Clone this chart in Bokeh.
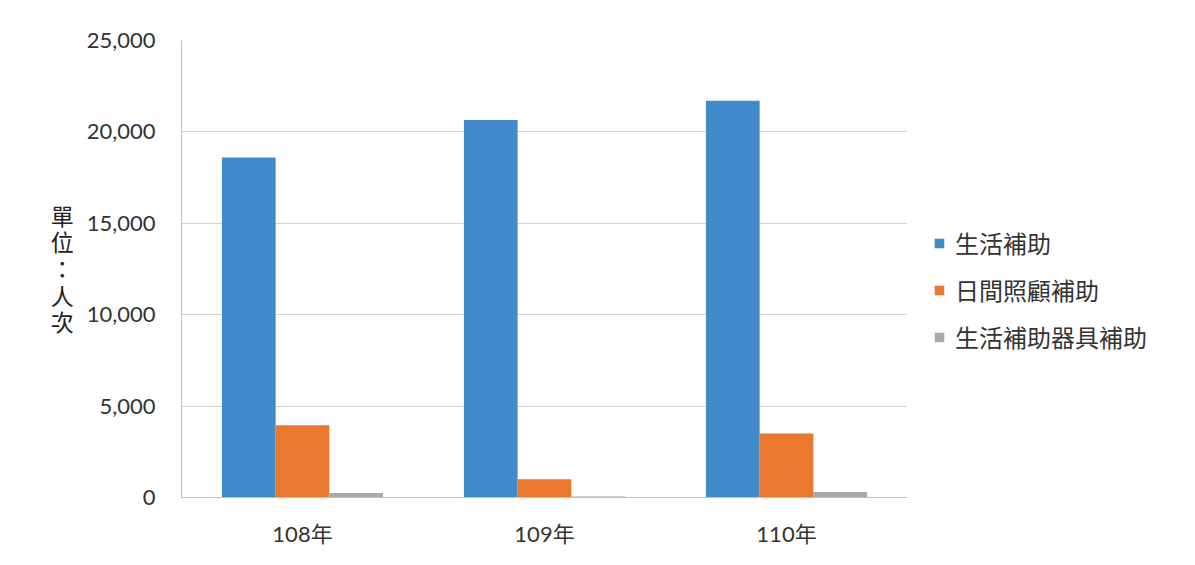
from bokeh.plotting import figure
from bokeh.models import Legend, LegendItem, FactorRange, NumeralTickFormatter, FixedTicker, Axis
from bokeh.layouts import row
from bokeh.transform import dodge
from bokeh.embed import file_html
from bokeh.resources import INLINE

years = ["108年", "109年", "110年"]
series_names = ["生活補助", "日間照顧補助", "生活補助器具補助"]
living = [18600, 20650, 21700]
daycare = [3950, 1000, 3500]
devices = [250, 50, 300]
colors = ["#428bca", "#e8792f", "#a7aaaa"]
y_ticks = [0, 5000, 10000, 15000, 20000, 25000]

FONT = "Lato, 'Noto Sans CJK TC', sans-serif"

p = figure(x_range=FactorRange(*years), y_range=(0, 25000), width=907, height=549,
           output_backend="svg", toolbar_location=None,
           min_border_left=181, min_border_right=0, min_border_top=40, min_border_bottom=48)

data = dict(year=years, a=living, b=daycare, c=devices)
for i, col in enumerate(["a", "b", "c"]):
    p.vbar(x=dodge("year", (i - 1) * 0.222, range=p.x_range), top=col, width=0.222,
           source=data, fill_color=colors[i], line_color=None)

p.yaxis.ticker = FixedTicker(ticks=y_ticks)
p.yaxis.formatter = NumeralTickFormatter(format="0,0")
p.ygrid.grid_line_color = "#d4d4d4"
p.xgrid.grid_line_color = None
p.outline_line_color = None
p.yaxis.axis_line_color = "#bfbfbf"
p.xaxis.axis_line_color = "#bfbfbf"
p.yaxis.major_tick_line_color = None
p.yaxis.minor_tick_line_color = None
p.xaxis.major_tick_line_color = None
p.yaxis.major_label_text_font = FONT
p.xaxis.major_label_text_font = FONT
p.yaxis.major_label_text_font_size = "22px"
p.xaxis.major_label_text_font_size = "22px"
p.yaxis.major_label_text_color = "#333333"
p.xaxis.major_label_text_color = "#333333"
p.yaxis.major_label_standoff = 20
p.xaxis.major_label_standoff = 16

p.yaxis.axis_label = "單\n位\n：\n人\n次"
p.yaxis.axis_label_text_font = FONT
p.yaxis.axis_label_text_font_size = "23px"
p.yaxis.axis_label_text_font_style = "normal"
p.yaxis.axis_label_text_color = "#222222"
p.yaxis.axis_label_standoff = 10
if "axis_label_orientation" in Axis.properties():
    p.yaxis.axis_label_orientation = "horizontal"
p.yaxis.axis_label_text_line_height = 0.95

# legend panel: a second, axis-free figure holding the legend
lg = figure(width=272, height=549, output_backend="svg", toolbar_location=None,
            x_range=(0, 1), y_range=(0, 1),
            min_border_left=0, min_border_right=0, min_border_top=0, min_border_bottom=0)
lg.axis.visible = False
lg.grid.visible = False
lg.outline_line_color = None
# proxy glyphs placed outside the visible range, used only as legend swatches
proxy = dict(x=[-10], top=[-10])
items = []
for name, c in zip(series_names, colors):
    r = lg.vbar(x="x", top="top", width=0.1, source=proxy, fill_color=c, line_color=None)
    items.append(LegendItem(label=name, renderers=[r]))

legend = Legend(items=items, location=(26, 143), orientation="vertical",
                label_text_font=FONT, label_text_font_size="24px", label_text_color="#333333",
                glyph_width=12, glyph_height=12, label_height=26, spacing=12,
                padding=0, margin=0, border_line_color=None, background_fill_alpha=0,
                label_standoff=10)
lg.add_layout(legend)

layout = row(p, lg, spacing=0)
open("out.html", "w").write(file_html(layout, INLINE))
